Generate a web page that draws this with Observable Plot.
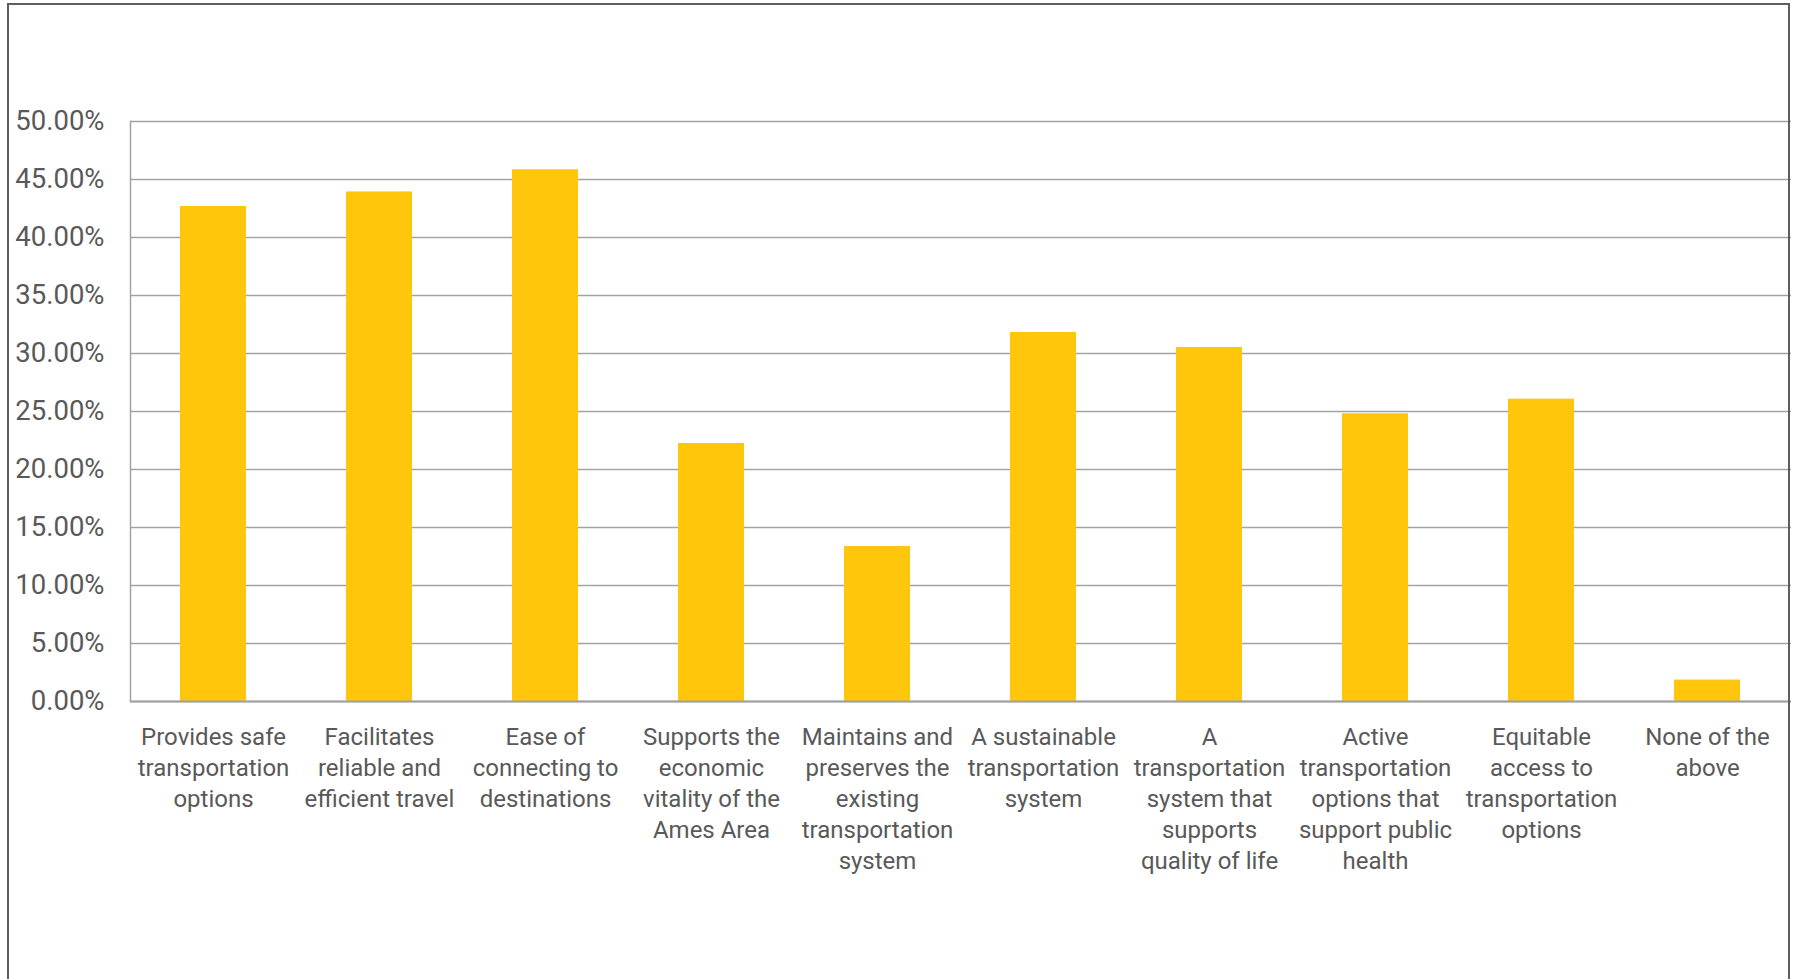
<!DOCTYPE html>
<html>
<head>
<meta charset="utf-8">
<script src="https://cdn.jsdelivr.net/npm/d3@7"></script>
<script src="https://cdn.jsdelivr.net/npm/@observablehq/plot@0.6"></script>
<style>
  html, body { margin: 0; padding: 0; background: #fff; }
  #wrap { position: relative; width: 1794px; height: 979px; overflow: hidden; }
  #border { position: absolute; left: 7px; top: 3px; width: 1783px; height: 1000px;
            border: 2px solid #5e5e5e; box-sizing: border-box; pointer-events: none; }
  #chart { position: absolute; left: 0; top: 0; }
</style>
</head>
<body>
<div id="wrap">
  <div id="chart"></div>
  <div id="border"></div>
</div>
<script>
const categories = [
  "Provides safe transportation options",
  "Facilitates reliable and efficient travel",
  "Ease of connecting to destinations",
  "Supports the economic vitality of the Ames Area",
  "Maintains and preserves the existing transportation system",
  "A sustainable transportation system",
  "A transportation system that supports quality of life",
  "Active transportation options that support public health",
  "Equitable access to transportation options",
  "None of the above"
];
const labelLines = [
  "Provides safe\ntransportation\noptions",
  "Facilitates\nreliable and\nefficient travel",
  "Ease of\nconnecting to\ndestinations",
  "Supports the\neconomic\nvitality of the\nAmes Area",
  "Maintains and\npreserves the\nexisting\ntransportation\nsystem",
  "A sustainable\ntransportation\nsystem",
  "A\ntransportation\nsystem that\nsupports\nquality of life",
  "Active\ntransportation\noptions that\nsupport public\nhealth",
  "Equitable\naccess to\ntransportation\noptions",
  "None of the\nabove"
];
const values = [0.4267, 0.4393, 0.4584, 0.2224, 0.1336, 0.3181, 0.3052, 0.2480, 0.2606, 0.0185];
const yTicks = [0, 0.05, 0.10, 0.15, 0.20, 0.25, 0.30, 0.35, 0.40, 0.45, 0.50];

const data = categories.map((c, i) => ({category: c, value: values[i]}));
const labelOf = new Map(categories.map((c, i) => [c, labelLines[i]]));

const chart = Plot.plot({
  width: 1794,
  height: 979,
  marginLeft: 130,
  marginRight: 3,
  marginTop: 121,
  marginBottom: 278,
  style: {fontFamily: "Roboto, sans-serif", color: "#595959", background: "transparent"},
  x: {domain: categories, paddingInner: 0.6, paddingOuter: 0.3, label: null},
  y: {domain: [0, 0.5], label: null},
  marks: [
    Plot.gridY(yTicks, {stroke: "#a3a3a3", strokeOpacity: 1, strokeWidth: 1.5}),
    Plot.frame({anchor: "left", stroke: "#a3a3a3", strokeWidth: 1.5}),
    Plot.barY(data, {x: "category", y: "value", fill: "#ffc60b"}),
    Plot.ruleY([0], {stroke: "#a0a0a0", strokeWidth: 2}),
    Plot.axisY({ticks: yTicks, tickFormat: d3.format(".2%"), tickSize: 0, tickPadding: 26,
                fontSize: 27.5, fill: "#595959", label: null}),
    Plot.axisX({tickSize: 0, tickPadding: 22, fontSize: 24, lineHeight: 1.29,
                lineAnchor: "top", fill: "#595959", label: null,
                tickFormat: d => labelOf.get(d)})
  ]
});
document.getElementById("chart").appendChild(chart);
</script>
</body>
</html>
